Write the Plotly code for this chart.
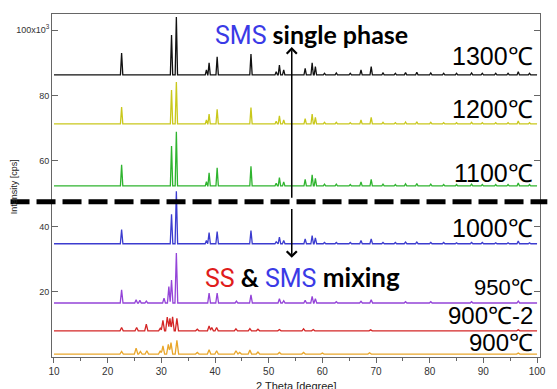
import numpy as np
import plotly.graph_objects as go

# ---------------- data (intensity in units of 10^3 cps) ----------------
LABELS = ["1300℃", "1200℃", "1100℃", "1000℃", "950℃", "900℃-2", "900℃"]
BASELINES = [86.3, 71.3, 52.4, 34.7, 16.6, 8.1, 1.0]
COLORS = ["#111111", "#c9c81c", "#2fb42f", "#3c3ccf", "#9444d8", "#d42626", "#e9a62a"]

X_START, X_END = 10.0, 100.0

# SMS reflections (2θ, degree)
SMS_POS = [22.6, 31.9, 32.8, 38.4, 38.9, 40.4, 46.7, 51.4, 52.0, 52.8, 56.8, 58.1,
           58.7, 60.4, 62.6, 65.2, 67.2, 69.1, 71.3, 73.6, 75.5, 77.6, 80.2, 82.6,
           85.0, 87.8, 89.8, 92.3, 94.6, 96.5, 98.6]
H1300 = [6.7, 12.2, 17.7, 1.5, 3.7, 5.5, 6.4, 1.0, 3.0, 1.5, 2.0, 3.7,
         2.5, 0.5, 0.6, 0.5, 1.5, 2.5, 0.6, 0.5, 0.7, 0.8, 0.6, 0.5,
         0.5, 0.6, 0.5, 0.5, 0.5, 1.0, 0.5]
H1200 = [5.2, 10.4, 12.8, 1.2, 3.0, 4.5, 5.0, 0.8, 2.5, 1.2, 1.6, 3.0,
         2.0, 0.5, 0.5, 0.4, 1.2, 2.0, 0.5, 0.4, 0.6, 0.7, 0.5, 0.4,
         0.4, 0.5, 0.4, 0.4, 0.4, 0.9, 0.4]
H1100 = [6.4, 12.2, 16.5, 1.3, 4.0, 5.5, 6.0, 0.8, 2.5, 1.2, 2.0, 3.4,
         2.3, 0.5, 0.5, 0.4, 1.2, 2.0, 0.5, 0.4, 0.6, 0.7, 0.5, 0.4,
         0.4, 0.5, 0.4, 0.4, 0.4, 0.9, 0.4]
H1000 = [4.3, 9.0, 16.0, 1.0, 3.4, 3.7, 4.0, 0.6, 2.0, 1.0, 1.5, 2.5,
         1.8, 0.4, 0.4, 0.4, 1.0, 1.5, 0.4, 0.4, 0.5, 0.5, 0.4, 0.4,
         0.3, 0.4, 0.4, 0.3, 0.3, 0.8, 0.3]

P950 = [22.6, 25.3, 26.0, 27.2, 30.5, 31.4, 31.9, 32.8, 38.9, 40.4, 44.0, 46.7,
        52.0, 52.8, 56.8, 58.1, 58.7, 62.6, 67.2, 69.1, 75.5, 80.2, 87.8, 96.5]
H950 = [4.0, 1.0, 0.8, 0.6, 1.5, 5.0, 7.0, 15.3, 3.0, 3.0, 0.6, 2.5,
        1.3, 0.7, 0.8, 2.0, 1.3, 0.4, 0.5, 1.0, 0.4, 0.4, 0.4, 0.6]

P900B = [22.6, 25.4, 27.2, 29.8, 30.3, 31.1, 31.6, 32.1, 32.9, 36.7, 38.9, 39.4,
         40.3, 43.9, 46.5, 48.0, 52.0, 56.5, 58.3, 69.0, 96.5]
H900B = [1.0, 1.0, 2.0, 0.8, 3.2, 4.2, 3.8, 4.3, 3.8, 0.5, 1.5, 1.0,
         1.0, 0.6, 0.7, 0.5, 0.4, 0.6, 0.4, 0.3, 0.3]

P900 = [22.6, 25.3, 26.1, 27.3, 29.8, 30.3, 31.3, 31.8, 32.9, 36.7, 38.9, 40.3,
        43.9, 44.6, 46.5, 48.0, 52.0, 56.5, 60.0, 68.8, 96.5]
H900 = [0.8, 1.8, 0.8, 1.0, 1.0, 2.5, 3.0, 3.5, 4.2, 0.5, 1.3, 1.0,
        1.0, 0.5, 1.2, 0.6, 0.5, 0.5, 0.3, 0.4, 0.3]

PEAK_POS = [SMS_POS, SMS_POS, SMS_POS, SMS_POS, P950, P900B, P900]
PEAK_H = [H1300, H1200, H1100, H1000, H950, H900B, H900]
HALF_W = [0.22, 0.22, 0.22, 0.24, 0.26, 0.3, 0.32]

DIVIDER_Y = 47.5
ARROW_X = 54.3
ARROW_UP = (48.3, 94.8)
ARROW_DOWN = (45.8, 30.4)
XTICKS = [10, 20, 30, 40, 50, 60, 70, 80, 90, 100]
YTICKS = [20, 40, 60, 80, 100]
YTICKTEXT = ["20", "40", "60", "80", "100x10<sup>3</sup>"]
LABEL_Y = [92.0, 76.0, 56.2, 39.6, 21.3, 12.7, 4.4]
LABEL_SIZE = [25, 25, 25, 25, 22, 24, 24]


def profile(base, pos, hts, w):
    xs = {X_START, X_END}
    for p in pos:
        xs.update([p - w, p, p + w])
    xs = np.array(sorted(xs))
    y = np.full(xs.shape, base, dtype=float)
    for p, h in zip(pos, hts):
        y += np.interp(xs, [p - w, p, p + w], [0.0, h, 0.0], left=0.0, right=0.0)
    return xs, y


fig = go.Figure()
for lab, b, c, pos, hts, w in zip(LABELS, BASELINES, COLORS, PEAK_POS, PEAK_H, HALF_W):
    x, y = profile(b, pos, hts, w)
    fig.add_trace(go.Scatter(x=x, y=y, mode="lines", name=lab,
                             line=dict(color=c, width=1.3), showlegend=False))

# dashed divider
fig.add_shape(type="line", xref="paper", yref="y", x0=-0.085, x1=1.015,
              y0=DIVIDER_Y, y1=DIVIDER_Y,
              line=dict(color="black", width=5, dash="19px,7px"))

ann = []
# arrows
ann.append(dict(x=ARROW_X, y=ARROW_UP[1], ax=ARROW_X, ay=ARROW_UP[0], xref="x", yref="y",
                axref="x", ayref="y", showarrow=True, arrowhead=4, arrowsize=1.3,
                arrowwidth=1.5, arrowcolor="black", text=""))
ann.append(dict(x=ARROW_X, y=ARROW_DOWN[1], ax=ARROW_X, ay=ARROW_DOWN[0], xref="x", yref="y",
                axref="x", ayref="y", showarrow=True, arrowhead=4, arrowsize=1.3,
                arrowwidth=1.5, arrowcolor="black", text=""))

NARROW = "Roboto, Arial, sans-serif"
BOLD = "Lato, Open Sans, sans-serif"
ann.append(dict(xref="paper", yref="paper", x=0.33, y=0.939, xanchor="left", yanchor="middle",
                showarrow=False,
                text=(f"<span style='font-family:{NARROW};color:#3a3ae6;font-size:25px'>SMS</span>"
                      f"<span style='font-family:{BOLD};font-weight:bold;color:black;font-size:25px'>"
                      f" single phase</span>"),
                font=dict(size=25)))
ann.append(dict(xref="paper", yref="paper", x=0.31, y=0.233, xanchor="left", yanchor="middle",
                showarrow=False,
                text=(f"<span style='font-family:{NARROW};color:#e01c1c;font-size:25px'>SS</span>"
                      f"<span style='font-family:{BOLD};font-weight:bold;color:black;font-size:25px'> &amp; </span>"
                      f"<span style='font-family:{NARROW};color:#3a3ae6;font-size:25px'>SMS</span>"
                      f"<span style='font-family:{BOLD};font-weight:bold;color:black;font-size:26px'> mixing</span>"),
                font=dict(size=25)))

for lab, ly, fs in zip(LABELS, LABEL_Y, LABEL_SIZE):
    ann.append(dict(xref="paper", yref="y", x=0.99, y=ly, xanchor="right", yanchor="middle",
                    showarrow=False, text=lab,
                    font=dict(family="Liberation Sans, Arial, sans-serif", size=fs, color="black")))

# axis titles
ann.append(dict(xref="paper", yref="paper", x=0.5, y=-0.085, xanchor="center", yanchor="middle",
                showarrow=False, text="2 Theta [degree]",
                font=dict(family="Liberation Sans, Arial", size=11, color="#222")))
ann.append(dict(xref="paper", yref="paper", x=-0.079, y=0.496, xanchor="center", yanchor="middle",
                showarrow=False, text="Intensity [cps]", textangle=-90,
                font=dict(family="Liberation Sans, Arial", size=9, color="#222")))

fig.update_layout(
    width=557, height=389,
    margin=dict(l=52, r=11, t=14, b=32),
    paper_bgcolor="white", plot_bgcolor="white",
    annotations=ann,
    font=dict(family="Liberation Sans, Arial, sans-serif", size=9, color="#333"),
)
fig.update_xaxes(range=[9.63, 100.55], tickvals=XTICKS, ticks="outside", ticklen=5,
                 tickcolor="#666", showline=True, linecolor="#666", linewidth=1, mirror=True,
                 showgrid=False, zeroline=False, tickfont=dict(size=10, color="#333"),
                 minor=dict(dtick=5, tick0=5, ticks="outside", ticklen=3, tickcolor="#666"))
fig.update_yaxes(range=[0.1, 104.9], tickvals=YTICKS, ticktext=YTICKTEXT, ticks="inside",
                 ticklen=6, tickcolor="#666", showline=True, linecolor="#666", linewidth=1,
                 mirror="ticks", showgrid=False, zeroline=False,
                 tickfont=dict(size=9, color="#333"))

fig.write_html("out.html")
